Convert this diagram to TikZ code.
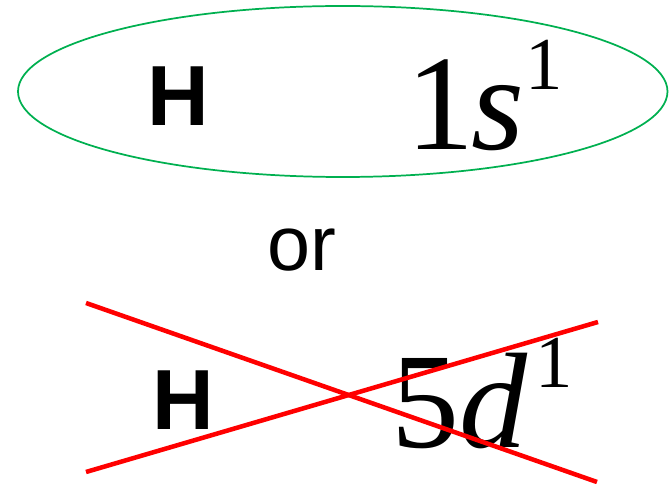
\documentclass[tikz,border=0pt]{standalone}
\usepackage{fontspec}
\usepackage{xcolor}
\usepackage{tikz}
\usetikzlibrary{positioning,calc}
\newfontfamily\arialfont{Liberation Sans}
\newfontfamily\timesfont{Liberation Serif}
\definecolor{okgreen}{HTML}{00B050}
\newcommand{\supone}{\raisebox{45pt}{\fontsize{56}{56}\selectfont 1}}

\begin{document}
\begin{tikzpicture}[x=0.75pt,y=-0.75pt,
    every node/.style={inner sep=0pt,outer sep=0pt},
    elem/.style={font=\arialfont\bfseries\fontsize{64}{64}\selectfont},
    config/.style={font=\timesfont\fontsize{102}{102}\selectfont,anchor=base west},
    cross/.style={red,line width=3.4pt}]
  \useasboundingbox (0,0) rectangle (672,484);
  \draw[okgreen,line width=1.3pt] (342.75,91.5) ellipse [x radius=324.75,y radius=85.5];
  \node[elem] (hup) at (178,96.5) {H};
  \node[config] (good) at (406,150) {1\kern-2pt\textit{s}\kern1pt\supone};
  \node[font=\arialfont\fontsize{58}{58}\selectfont,anchor=base] (or) at (302,271) {or};
  \node[elem] (hdown) at (183,400) {H};
  \node[config] (bad) at (391,448) {5\textit{d}\kern6pt\supone};
  % crossing out the wrong one
  \coordinate (xa) at (86,303);
  \coordinate (xb) at (597,482);
  \coordinate (xc) at (86,472);
  \coordinate (xd) at (598,322);
  \draw[cross] (xa) -- (xb);
  \draw[cross] (xc) -- (xd);
\end{tikzpicture}
\end{document}
